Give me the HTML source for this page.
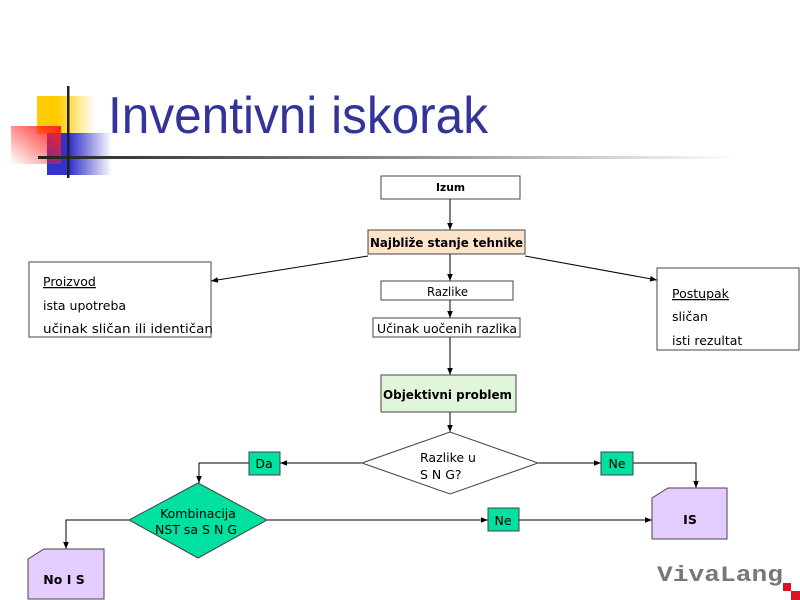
<!DOCTYPE html>
<html><head><meta charset="utf-8"><style>
html,body{margin:0;padding:0;background:#fff;}
svg{display:block;}
text{font-family:"DejaVu Sans","Liberation Sans",sans-serif;}
</style></head><body>
<svg width="800" height="600" viewBox="0 0 800 600" xmlns="http://www.w3.org/2000/svg">
<defs>
<linearGradient id="gy" x1="0" x2="1"><stop offset="0.35" stop-color="#ffcc00"/><stop offset="1" stop-color="#ffcc00" stop-opacity="0"/></linearGradient>
<linearGradient id="gb" x1="0" x2="1"><stop offset="0.35" stop-color="#3333cc"/><stop offset="1" stop-color="#3333cc" stop-opacity="0"/></linearGradient>
<linearGradient id="gr" x1="1" y1="0" x2="0" y2="1"><stop offset="0" stop-color="#ff2020"/><stop offset="1" stop-color="#ff2020" stop-opacity="0"/></linearGradient>
<linearGradient id="gl" x1="0" x2="1"><stop offset="0" stop-color="#222"/><stop offset="0.5" stop-color="#888"/><stop offset="1" stop-color="#fff"/></linearGradient>
<marker id="a" viewBox="0 0 10 10" refX="10" refY="5" markerWidth="7" markerHeight="7" orient="auto"><path d="M0,1 L10,5 L0,9 z" fill="#000"/></marker>
</defs>
<rect x="37" y="96" width="58" height="38" fill="url(#gy)"/>
<rect x="47" y="133" width="65" height="42" fill="url(#gb)"/>
<rect x="11" y="126" width="50" height="38" fill="url(#gr)"/>
<rect x="38" y="156" width="700" height="3" fill="url(#gl)"/>
<rect x="67" y="86" width="2.5" height="92" fill="#222"/>
<text x="108" y="133" font-size="52" fill="#333399" textLength="380" lengthAdjust="spacingAndGlyphs" style="font-family:'Liberation Sans',sans-serif">Inventivni iskorak</text>

<g stroke="#000" stroke-width="1" fill="none">
<line x1="450" y1="199" x2="450" y2="230" marker-end="url(#a)"/>
<line x1="450" y1="254" x2="450" y2="281" marker-end="url(#a)"/>
<line x1="450" y1="300" x2="450" y2="318" marker-end="url(#a)"/>
<line x1="450" y1="337" x2="450" y2="375" marker-end="url(#a)"/>
<line x1="450" y1="412" x2="450" y2="432" marker-end="url(#a)"/>
<line x1="368" y1="256" x2="211" y2="281" marker-end="url(#a)"/>
<line x1="525" y1="256" x2="657" y2="280" marker-end="url(#a)"/>
<line x1="362" y1="463" x2="280" y2="463" marker-end="url(#a)"/>
<line x1="538" y1="463" x2="601" y2="463" marker-end="url(#a)"/>
<polyline points="249,463 199,463 199,483" marker-end="url(#a)"/>
<polyline points="633,463 696,463 696,488" marker-end="url(#a)"/>
<polyline points="129,520 66,520 66,549" marker-end="url(#a)"/>
<line x1="267" y1="520" x2="488" y2="520" marker-end="url(#a)"/>
<line x1="519" y1="520" x2="652" y2="520" marker-end="url(#a)"/>
</g>

<g stroke="#444" stroke-width="1">
<rect x="381" y="176" width="139" height="23" fill="#fff"/>
<rect x="368" y="230" width="157" height="24" fill="#fde3c9"/>
<rect x="381" y="281" width="132" height="19" fill="#fff"/>
<rect x="373" y="318" width="147" height="19" fill="#fff"/>
<rect x="381" y="375" width="135" height="37" fill="#e0f5da"/>
<polygon points="362,463 450,432 538,463 450,494" fill="#fff"/>
<rect x="29" y="262" width="182" height="75" fill="#fff"/>
<rect x="657" y="268" width="142" height="82" fill="#fff"/>
<rect x="249" y="452" width="31" height="23" fill="#00e0a0"/>
<rect x="601" y="452" width="32" height="23" fill="#00e0a0"/>
<rect x="488" y="508" width="31" height="23" fill="#00e0a0"/>
<polygon points="129,520 198,483 267,520 198,558" fill="#00e0a0"/>
<polygon points="668,488 727,488 727,539 652,539 652,498" fill="#e5ccff"/>
<polygon points="44,549 104,549 104,599 28,599 28,559" fill="#e5ccff"/>
</g>

<g font-size="12.5" fill="#000">
<text x="436" y="191" font-size="11" font-weight="bold" textLength="29" lengthAdjust="spacingAndGlyphs">Izum</text>
<text x="370" y="247" font-weight="bold" textLength="153" lengthAdjust="spacingAndGlyphs">Najbliže stanje tehnike</text>
<text x="427" y="296" textLength="41" lengthAdjust="spacingAndGlyphs">Razlike</text>
<text x="377" y="333" textLength="140" lengthAdjust="spacingAndGlyphs">Učinak uočenih razlika</text>
<text x="383" y="399" font-weight="bold" textLength="129" lengthAdjust="spacingAndGlyphs">Objektivni problem</text>
<text x="420" y="462">Razlike u</text>
<text x="420" y="479">S N G?</text>
<text x="43" y="286" text-decoration="underline">Proizvod</text>
<text x="43" y="310">ista upotreba</text>
<text x="43" y="333" textLength="170" lengthAdjust="spacingAndGlyphs">učinak sličan ili identičan</text>
<text x="672" y="298" text-decoration="underline">Postupak</text>
<text x="672" y="321">sličan</text>
<text x="672" y="345">isti rezultat</text>
<text x="264" y="468" text-anchor="middle">Da</text>
<text x="617" y="468" text-anchor="middle">Ne</text>
<text x="503" y="525" text-anchor="middle">Ne</text>
<text x="198" y="518" text-anchor="middle">Kombinacija</text>
<text x="196" y="534" text-anchor="middle">NST sa S N G</text>
<text x="690" y="524" text-anchor="middle" font-weight="bold">IS</text>
<text x="64" y="584" text-anchor="middle" font-weight="bold">No I S</text>
</g>
<text x="657" y="581" font-size="22" font-weight="bold" fill="#777" textLength="126" lengthAdjust="spacingAndGlyphs" style="font-family:'Liberation Mono',monospace">VivaLang</text>
<rect x="783" y="583" width="8" height="8" fill="#dd1122"/>
<rect x="791" y="591" width="9" height="9" fill="#dd1122"/>
</svg>
</body></html>
